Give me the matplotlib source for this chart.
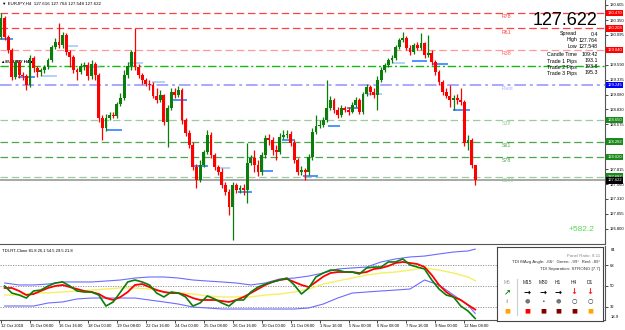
import numpy as np
import matplotlib.pyplot as plt
import matplotlib.transforms as mtrans

# EURJPY H4 candles (price), open = previous close
first_open = 130.061
closes = [130.384, 130.061, 129.840, 129.381, 129.636, 129.415, 129.398, 129.245, 129.704, 129.534,
          129.466, 129.500, 129.551, 129.670, 129.891, 129.976, 129.925, 130.095, 129.806, 129.721,
          129.500, 129.466, 129.568, 129.585, 129.398, 129.602, 129.415, 128.684, 128.514, 128.684,
          128.735, 128.718, 128.922, 129.024, 129.415, 129.568, 129.806, 129.551, 129.415, 129.330,
          129.262, 129.245, 129.058, 128.990, 129.075, 128.616, 128.854, 129.126, 129.075, 129.160,
          128.650, 128.429, 128.225, 127.851, 127.630, 127.885, 128.106, 128.395, 128.055, 127.851,
          127.766, 127.545, 127.426, 127.171, 127.545, 127.460, 127.494, 127.460, 127.919, 128.004,
          127.885, 127.766, 128.055, 128.344, 128.310, 128.140, 128.106, 128.361, 128.395, 128.412,
          128.259, 127.970, 127.766, 127.800, 127.766, 128.021, 128.446, 128.548, 128.565, 128.650,
          128.854, 128.990, 128.820, 128.735, 128.854, 128.820, 128.786, 128.905, 128.990, 128.786,
          129.092, 129.211, 129.126, 129.075, 129.330, 129.500, 129.585, 129.670, 129.704, 129.891,
          130.010, 130.044, 129.874, 129.806, 129.925, 129.874, 129.959, 129.755, 129.789, 129.636,
          129.466, 129.296, 129.126, 129.058, 128.990, 129.024, 128.990, 128.956, 128.259, 128.310,
          127.885, 127.622]
highs = [130.469, 130.418, 130.095, 129.874, 129.670, 129.670, 129.466, 129.432, 129.755, 129.738,
         129.568, 129.534, 129.585, 129.704, 129.925, 130.044, 130.299, 130.146, 130.129, 129.840,
         129.755, 129.534, 129.619, 129.636, 129.636, 129.670, 129.636, 129.449, 128.735, 128.752,
         128.786, 128.786, 128.956, 129.109, 129.500, 129.636, 129.840, 130.214, 129.602, 129.449,
         129.364, 129.330, 129.296, 129.194, 129.160, 129.092, 128.905, 129.194, 129.194, 129.228,
         129.194, 128.684, 128.480, 128.276, 127.902, 127.970, 128.140, 128.480, 128.446, 128.089,
         127.885, 127.834, 127.596, 127.477, 127.596, 127.579, 127.545, 127.562, 128.259, 128.055,
         128.140, 127.970, 128.106, 128.395, 128.412, 128.361, 128.225, 128.429, 128.480, 128.480,
         128.463, 128.310, 128.004, 127.868, 127.834, 128.072, 128.514, 128.735, 128.650, 128.701,
         129.330, 129.058, 129.024, 128.871, 128.905, 128.888, 128.871, 128.956, 129.041, 129.024,
         129.126, 129.262, 129.245, 129.194, 129.398, 129.551, 129.619, 129.704, 129.755, 129.925,
         130.044, 130.146, 130.078, 129.925, 129.959, 129.976, 130.129, 129.976, 130.095, 129.840,
         129.670, 129.500, 129.330, 129.194, 129.245, 129.075, 129.092, 129.194, 128.990, 128.395,
         128.344, 127.764]
lows = [130.027, 130.010, 129.789, 129.330, 129.347, 129.364, 129.330, 129.160, 129.211, 129.466,
        129.381, 129.398, 129.449, 129.517, 129.636, 129.857, 129.874, 129.874, 129.755, 129.551,
        129.449, 129.330, 129.432, 129.500, 129.330, 129.347, 129.330, 128.616, 128.310, 128.463,
        128.650, 128.684, 128.684, 128.888, 128.990, 129.364, 129.500, 129.500, 129.364, 129.262,
        129.228, 129.160, 129.024, 128.939, 128.956, 128.565, 128.191, 128.820, 129.024, 129.041,
        128.582, 128.378, 128.174, 127.800, 127.494, 127.596, 127.851, 128.072, 128.004, 127.800,
        127.715, 127.494, 127.375, 127.035, 126.610, 127.409, 127.409, 127.375, 127.239, 127.885,
        127.766, 127.698, 127.715, 128.004, 128.225, 128.055, 127.970, 128.072, 128.327, 128.344,
        128.208, 127.919, 127.715, 127.715, 127.630, 127.715, 127.970, 128.412, 128.514, 128.531,
        128.616, 128.820, 128.769, 128.684, 128.701, 128.786, 128.735, 128.769, 128.871, 128.752,
        128.752, 129.058, 129.075, 129.024, 128.820, 129.296, 129.466, 129.551, 129.619, 129.670,
        129.857, 129.976, 129.840, 129.755, 129.772, 129.840, 129.840, 129.704, 129.721, 129.585,
        129.415, 129.245, 129.075, 129.024, 128.871, 128.820, 128.922, 128.905, 128.208, 128.140,
        127.834, 127.548]

# short daily level markers: start / end (bar index) and price
mark_start = [-0.3, 4.7, 11.3, 17.7, 24.0, 29.3, 35.1, 41.7, 46.7, 53.0, 59.7,
              65.5, 71.5, 77.6, 83.4, 90.3, 95.6, 101.4, 108.3, 113.5, 119.1, 124.9]
mark_end = [3.3, 9.4, 15.5, 21.3, 27.3, 33.4, 39.2, 45.3, 51.4, 57.2, 63.3,
            69.3, 75.1, 81.2, 87.6, 93.6, 99.2, 105.2, 111.6, 117.7, 123.5, 129.6]
mark_price = [130.027, 129.381, 129.398, 129.908, 129.551, 128.480, 129.619, 129.296, 128.990, 127.868, 127.834,
              127.426, 127.783, 128.310, 127.698, 128.548, 128.854, 129.092, 129.619, 129.653, 129.602, 128.820]
mark_light = [0, 0, 1, 1, 1, 0, 1, 1, 0, 0, 1, 0, 0, 0, 0, 0, 0, 1, 1, 0, 0, 0]

# pivot / fib levels
level_names = ['R78', 'R61', 'R38', 'Pivot', 'S38', 'S61', 'S78', 'S100']
level_prices = [130.470, 130.208, 129.840, 129.245, 128.650, 128.282, 128.020, 127.687]
level_colors = ['#ff4040', '#ff4040', '#ff9a9a', '#a8a8ff', '#9ccc9c', '#4ea64e', '#4ea64e', '#9ccc9c']
level_box = ['#ff0000', '#ff0000', '#ff0000', '#0000ff', '#1b8a1b', '#1b8a1b', '#1b8a1b', '#1b8a1b']
day_open = 129.568
bid = 127.622

# right scale ticks still visible beside the level boxes
price_ticks = [130.605, 130.350, 130.095, 129.590, 129.335, 129.080, 128.830,
               128.575, 127.815, 127.560, 127.310, 127.055, 126.800]

date_labels = ['12 Oct 2018', '15 Oct 08:00', '16 Oct 16:00', '18 Oct 00:00', '19 Oct 08:00',
               '22 Oct 16:00', '24 Oct 00:00', '25 Oct 08:00', '26 Oct 16:00', '30 Oct 00:00',
               '31 Oct 08:00', '1 Nov 16:00', '5 Nov 00:00', '6 Nov 08:00', '7 Nov 16:00',
               '9 Nov 00:00', '12 Nov 08:00']

# TDI lines (green/red every 2 bars, bands and base every 4 bars)
tdi_green = [49.9, 43.8, 42.1, 39.5, 45.6, 46.4, 49.9, 52.5, 53.4, 49.9, 45.6, 44.7, 44.7, 42.1, 32.6,
             36.1, 44.7, 53.4, 55.1, 53.4, 50.8, 43.8, 40.4, 44.7, 43.8, 40.4, 32.6, 35.2, 41.3, 38.7,
             35.2, 32.6, 37.8, 37.8, 44.7, 49.0, 51.6, 53.4, 55.1, 56.8, 50.8, 43.0, 48.2, 57.7, 61.1,
             63.7, 63.7, 62.0, 62.0, 60.3, 65.5, 66.3, 66.3, 70.7, 70.7, 73.3, 68.1, 66.3, 64.6, 55.1,
             47.3, 42.1, 40.4, 32.6, 28.3, 21.8]
tdi_red = [48.2, 48.2, 45.6, 42.1, 43.0, 45.6, 48.2, 49.9, 50.8, 49.0, 47.3, 45.6, 44.7, 43.0, 39.5,
           37.8, 40.4, 44.7, 50.8, 51.6, 49.0, 46.4, 44.7, 43.8, 43.8, 42.1, 39.5, 37.8, 37.8, 37.8,
           36.9, 36.1, 37.8, 40.4, 43.8, 47.3, 50.8, 53.4, 55.1, 56.0, 53.4, 50.8, 49.0, 53.4, 58.0,
           61.1, 62.0, 62.0, 62.0, 61.1, 62.0, 64.6, 65.5, 67.2, 69.8, 70.7, 69.8, 68.9, 66.3, 59.4,
           50.8, 44.7, 40.4, 37.8, 33.5, 29.5]
tdi_base = [42.1, 42.1, 43.8, 44.0, 44.7, 45.6, 46.4, 47.3, 48.2, 48.2, 47.3, 44.7, 43.8, 43.0, 41.3,
            40.4, 40.4, 40.4, 42.1, 43.0, 44.7, 47.3, 51.6, 54.2, 56.8, 59.4, 61.1, 62.0, 63.7, 65.5,
            63.7, 61.1, 57.7, 54.5]
tdi_upper = [52.5, 50.8, 50.8, 51.6, 53.4, 53.4, 53.4, 54.2, 55.1, 56.8, 57.7, 57.7, 56.8, 55.1, 54.2,
             53.4, 52.5, 50.8, 52.5, 56.0, 56.8, 58.5, 61.1, 64.6, 65.5, 66.3, 70.7, 73.3, 75.0, 75.8,
             77.6, 79.3, 80.2, 81.8]
tdi_lower = [32.6, 32.6, 32.6, 35.2, 36.1, 38.7, 39.5, 39.5, 39.5, 39.5, 37.8, 36.1, 34.3, 31.7, 30.9,
             30.0, 30.0, 30.0, 30.0, 30.0, 30.0, 30.9, 34.3, 39.5, 43.8, 44.7, 45.6, 46.4, 47.3, 55.1,
             50.8, 42.1, 33.5, 26.1]

tf_names = ['M5', 'M15', 'M30', 'H1', 'H4', 'D1']
tf_arrows = ['↗', '→', '→', '→', '↓', '↓']
tf_arrow_col = ['#118811', '#000000', '#000000', '#000000', '#ff2020', '#ff2020']
tf_dots = ['ıl', '●', '•', '●', '○', '○']
tf_dot_col = ['#aaaaaa', '#777777', '#555555', '#777777', '#222222', '#222222']
tf_sq_col = ['#ffa500', '#ff0000', '#800000', '#800000', '#800000', '#ffa500']

plt.rcParams['font.family'] = ['Liberation Sans', 'DejaVu Sans']

fig = plt.figure(figsize=(6.25, 3.3), dpi=100)
ax = fig.add_axes([0, 86 / 330, 605 / 625, 244 / 330])
ax2 = fig.add_axes([0, 10 / 330, 605 / 625, 74 / 330])

c = np.array(closes)
h = np.array(highs)
l = np.array(lows)
o = np.concatenate([[first_open], c[:-1]])
idx = np.arange(len(c))
cols = np.where(c >= o, '#0a7d0a', '#ff0000')

# levels
for name, p, col in zip(level_names, level_prices, level_colors):
    if name == 'Pivot':
        ax.axhline(p, color=col, lw=1.4, ls=(0, (6, 2, 1.5, 2)), zorder=1)
    else:
        ax.axhline(p, color=col, lw=0.9, ls=(0, (6, 3)), zorder=1)
    ax.annotate(name, (138.4, p), xytext=(0, -1), textcoords='offset points',
                fontsize=3.8, color=col if name != 'R38' else '#ff6060', va='top', ha='left')
ax.axhline(day_open, color='#11bb11', lw=1.0, ls=(0, (6, 2, 1.5, 2)), zorder=1)
ax.axhline(bid, color='#a0a0a0', lw=1.3, zorder=1)

# markers
for x0, x1, p, lt in zip(mark_start, mark_end, mark_price, mark_light):
    ax.hlines(p, x0, x1, color='#9cc8f4' if lt else '#1e78ff', lw=1.1, zorder=2)

# candles
ax.vlines(idx, l, h, colors=cols, lw=0.9, zorder=3)
body = np.maximum(np.abs(c - o), 0.012)
ax.bar(idx, body, bottom=np.minimum(o, c), width=0.78, color=cols, zorder=4)

ax.set_xlim(-0.28, 166.85)
ax.set_ylim(126.542, 130.69)
ax.yaxis.tick_right()
ax.set_yticks(price_ticks)
ax.set_yticklabels([f'{t:.3f}' for t in price_ticks])
ax.tick_params(axis='y', labelsize=3, length=2, width=0.5, pad=1.5, colors='#000000')
ax.set_xticks([])
for s in ['top', 'left']:
    ax.spines[s].set_visible(False)
ax.spines['right'].set_color('#555555')
ax.spines['bottom'].set_color('#555555')

bt = mtrans.blended_transform_factory(ax.transAxes, ax.transData)
for p, bc in zip(level_prices, level_box):
    ax.text(1.004, p, f'{p:.3f}', transform=bt, fontsize=3, color='white', va='center', ha='left',
            bbox=dict(boxstyle='square,pad=0.3', fc=bc, ec='none'), clip_on=False, zorder=10)
ax.text(1.004, bid, f'{bid:.3f}', transform=bt, fontsize=3, color='white', va='center', ha='left',
        bbox=dict(boxstyle='square,pad=0.3', fc='#000000', ec='none'), clip_on=False, zorder=10)

# texts on main chart
ax.text(0.004, 0.993, '▼ EURJPY,H4  127.616 127.764 127.548 127.622', transform=ax.transAxes,
        fontsize=3.2, va='top', ha='left', color='#000000')
ax.text(0.002, 0.745, '▲EURJPY H4 ■', transform=ax.transAxes, fontsize=3.2,
        va='center', ha='left', color='#000000', fontweight='bold')
ax.text(0.988, 0.918, '127.622', transform=ax.transAxes, fontsize=13, va='center', ha='right')
info_lab = ['Spread', 'High', 'Low', 'Candle Time', 'Trade 1 Pips', 'Trade 2 Pips', 'Trade 3 Pips']
info_val = ['0.4', '127.764', '127.548', '109:42', '193.1', '193.8', '195.3']
info_y = [34, 40, 47, 54, 61, 67, 73]
for lab, val, yy in zip(info_lab, info_val, info_y):
    ax.text(0.954, 1 - yy / 244, lab, transform=ax.transAxes, fontsize=3.8, va='center', ha='right')
    ax.text(0.988, 1 - yy / 244, val, transform=ax.transAxes, fontsize=3.8, va='center', ha='right')
ax.text(0.983, 0.061, '+582.2', transform=ax.transAxes, fontsize=6, color='#55d855',
        va='center', ha='right')

# TDI panel
gi = np.arange(1, 132, 2)
bi = np.array(list(range(1, 130, 4)) + [131])
for v in [68, 50, 32]:
    ax2.axhline(v, color='#888888', lw=0.6, ls=(0, (1.5, 1.5)))
ax2.plot(bi, tdi_upper, color='#6b6bff', lw=0.8)
ax2.plot(bi, tdi_lower, color='#6b6bff', lw=0.8)
ax2.plot(bi, tdi_base, color='#f5f060', lw=1.0)
ax2.plot(gi, tdi_red, color='#ff0000', lw=1.3)
ax2.plot(gi, tdi_green, color='#0a7d0a', lw=1.2)
ax2.set_xlim(-0.28, 166.85)
ax2.set_ylim(20.5, 84.5)
ax2.yaxis.tick_right()
ax2.set_yticks([68, 50, 32])
ax2.set_yticklabels(['68', '50', '32'])
ax2.tick_params(axis='y', labelsize=3, length=2, width=0.5, pad=1.5)
ax2.text(1.01, 0.95, '84', transform=ax2.transAxes, fontsize=3, va='center', ha='left')
ax2.text(1.01, 0.04, '18.9', transform=ax2.transAxes, fontsize=3, va='center', ha='left')
ax2.set_xticks(np.arange(0, 129, 8))
ax2.set_xticklabels(date_labels)
ax2.tick_params(axis='x', labelsize=3, length=2, width=0.5, pad=1)
for t in ax2.get_xticklabels():
    t.set_horizontalalignment('left')
for s in ['top', 'left']:
    ax2.spines[s].set_visible(False)
ax2.spines['right'].set_color('#555555')
ax2.spines['bottom'].set_color('#555555')
ax2.text(0.003, 0.93, 'TDI-RT-Clone 81.8 26.1 54.5 29.5 21.8', transform=ax2.transAxes,
         fontsize=3, va='center', ha='left')

# dashboard box
bx = fig.add_axes([497 / 625, 9 / 330, 106 / 625, 74 / 330])
bx.set_xlim(0, 1)
bx.set_ylim(0, 1)
bx.set_xticks([])
bx.set_yticks([])
bx.set_facecolor('white')
for s in bx.spines.values():
    s.set_color('#444444')
    s.set_linewidth(0.8)
bx.text(0.972, 0.878, 'Panel Ratio: 8.11', fontsize=3.2, color='#888888', ha='right', va='center')
bx.text(0.972, 0.797, 'TDI MAvg Angle: -66°  Green: -99°  Red: -89°', fontsize=3.2,
        color='#333333', ha='right', va='center')
bx.text(0.972, 0.703, 'TDI Separation: STRONG [7.7]', fontsize=3.2, color='#333333',
        ha='right', va='center')
col_x = [0.094, 0.283, 0.434, 0.575, 0.726, 0.877]
bx.plot([0.189, 0.189], [0.08, 0.57], color='#cccccc', lw=0.8)
for k in range(6):
    bx.text(col_x[k], 0.514, tf_names[k], fontsize=3.5, ha='center', va='center',
            color='#999999' if k == 0 else '#222222')
    bx.text(col_x[k], 0.392, tf_arrows[k], fontsize=6, ha='center', va='center',
            color=tf_arrow_col[k], fontweight='bold', family='DejaVu Sans')
    bx.text(col_x[k], 0.27, tf_dots[k], fontsize=4.5, ha='center', va='center',
            color=tf_dot_col[k], family='DejaVu Sans')
    bx.text(col_x[k], 0.135, '■', fontsize=4.5, ha='center', va='center',
            color=tf_sq_col[k], family='DejaVu Sans')

fig.savefig('out.png', dpi=100, facecolor='white')
